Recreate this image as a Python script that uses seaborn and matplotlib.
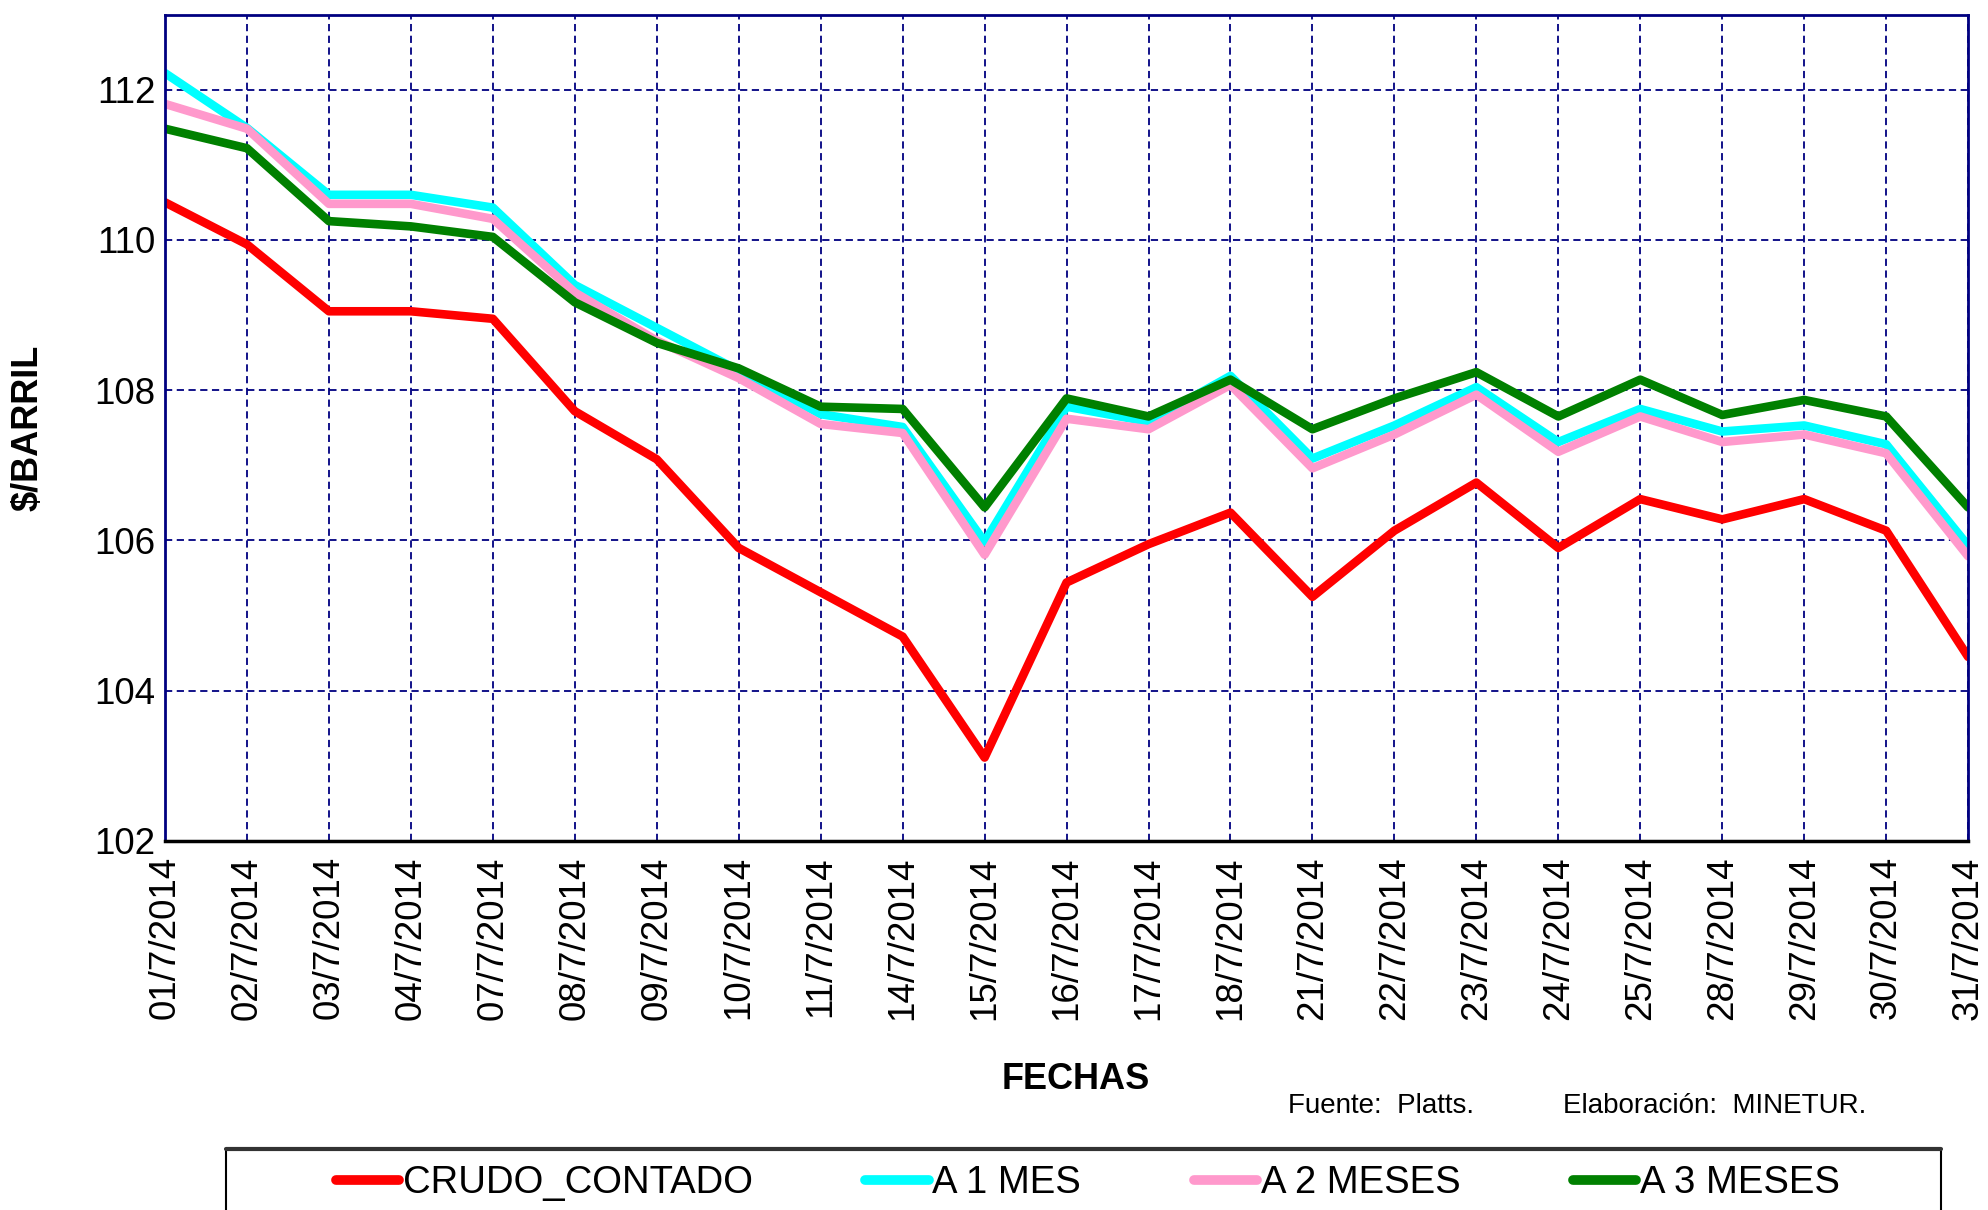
import numpy as np
import pandas as pd
import matplotlib
matplotlib.use("Agg")
import matplotlib.pyplot as plt
from matplotlib.patches import Rectangle
import seaborn as sns

# --- Data ---
fechas = ["01/7/2014", "02/7/2014", "03/7/2014", "04/7/2014", "07/7/2014",
          "08/7/2014", "09/7/2014", "10/7/2014", "11/7/2014", "14/7/2014",
          "15/7/2014", "16/7/2014", "17/7/2014", "18/7/2014", "21/7/2014",
          "22/7/2014", "23/7/2014", "24/7/2014", "25/7/2014", "28/7/2014",
          "29/7/2014", "30/7/2014", "31/7/2014"]

crudo_contado = [110.50, 109.94, 109.05, 109.05, 108.95, 107.72, 107.08, 105.90,
                 105.31, 104.72, 103.11, 105.44, 105.95, 106.37, 105.25, 106.13,
                 106.77, 105.90, 106.55, 106.28, 106.55, 106.13, 104.45]
a_1_mes = [112.22, 111.49, 110.60, 110.60, 110.43, 109.40, 108.83, 108.26,
           107.68, 107.51, 105.98, 107.78, 107.58, 108.19, 107.09, 107.53,
           108.04, 107.31, 107.75, 107.45, 107.53, 107.28, 105.93]
a_2_meses = [111.81, 111.48, 110.48, 110.48, 110.28, 109.30, 108.66, 108.16,
             107.55, 107.43, 105.81, 107.62, 107.48, 108.07, 106.96, 107.41,
             107.94, 107.18, 107.65, 107.31, 107.41, 107.16, 105.79]
a_3_meses = [111.48, 111.22, 110.25, 110.18, 110.04, 109.17, 108.63, 108.29,
             107.78, 107.75, 106.44, 107.89, 107.65, 108.14, 107.48, 107.89,
             108.24, 107.65, 108.14, 107.67, 107.87, 107.65, 106.44]

series = {
    "CRUDO_CONTADO": crudo_contado,
    "A 1 MES": a_1_mes,
    "A 2 MESES": a_2_meses,
    "A 3 MESES": a_3_meses,
}
colores = {"CRUDO_CONTADO": "#FF0000", "A 1 MES": "#00FFFF",
           "A 2 MESES": "#FF99CC", "A 3 MESES": "#008000"}

# --- Long-form table for seaborn ---
pos = np.arange(len(fechas))
df = pd.concat(
    [pd.DataFrame({"pos": pos, "precio": vals, "serie": name})
     for name, vals in series.items()],
    ignore_index=True,
)

sns.set_theme(style="white")
plt.rcParams["font.family"] = ["Liberation Sans", "DejaVu Sans"]
plt.rcParams["text.color"] = "black"
plt.rcParams["xtick.labelcolor"] = "black"
plt.rcParams["ytick.labelcolor"] = "black"

NAVY = "#000080"

fig = plt.figure(figsize=(19.88, 12.10), dpi=100)
ax = fig.add_axes([0.083, 0.305, 0.907, 0.683])

sns.lineplot(data=df, x="pos", y="precio", hue="serie", palette=colores,
             hue_order=list(series.keys()), linewidth=6.2, sort=False,
             legend=False, ax=ax, solid_joinstyle="round")

ax.set_xlim(0, len(fechas) - 1)
ax.set_ylim(102, 113)
ax.set_xticks(pos)
ax.set_xticklabels(fechas, rotation=90, fontsize=26.5)
ax.set_yticks([102, 104, 106, 108, 110, 112])
ax.set_yticklabels(["102", "104", "106", "108", "110", "112"], fontsize=26.5)
ax.set_xlabel("")
ax.set_ylabel("")

# Excel style grid
ax.grid(True, which="major", color=NAVY, linestyle=(0, (4, 2.5)), linewidth=1.3)
ax.set_axisbelow(True)
for side in ["left", "top", "right"]:
    ax.spines[side].set_color(NAVY)
    ax.spines[side].set_linewidth(2)
ax.spines["bottom"].set_color("black")
ax.spines["bottom"].set_linewidth(2.5)
ax.tick_params(axis="y", direction="out", length=6, width=2, color=NAVY, pad=1)
ax.tick_params(axis="x", direction="inout", length=14, width=1.5, color="black", pad=4)

fig.text(0.014, 0.646, "$/BARRIL", rotation=90, ha="center", va="center",
         fontsize=26, fontweight="bold")
fig.text(0.541, 0.108, "FECHAS", ha="center", va="center",
         fontsize=26, fontweight="bold")
fig.text(0.648, 0.086, "Fuente:  Platts.", ha="left", va="center", fontsize=20)
fig.text(0.786, 0.086, "Elaboración:  MINETUR.", ha="left", va="center", fontsize=20)

# legend below, box cut by the figure edge
handles = [plt.Line2D([], [], color=colores[k], linewidth=7, solid_capstyle="round")
           for k in series]
fig.legend(handles, list(series.keys()), loc="center left",
           bbox_to_anchor=(0.169, 0.022), ncol=4, frameon=False, fontsize=27.5,
           handlelength=1.65, handletextpad=0.1, columnspacing=2.95,
           borderpad=0, borderaxespad=0)
fig.patches.append(Rectangle((0.1137, -0.05), 0.8627, 0.1004,
                             transform=fig.transFigure, fill=False,
                             edgecolor="black", linewidth=1.5))
fig.add_artist(plt.Line2D([0.1137, 0.9764], [0.0504, 0.0504],
                          transform=fig.transFigure, color="#333333", linewidth=3))

fig.savefig("out.png", dpi=100)
